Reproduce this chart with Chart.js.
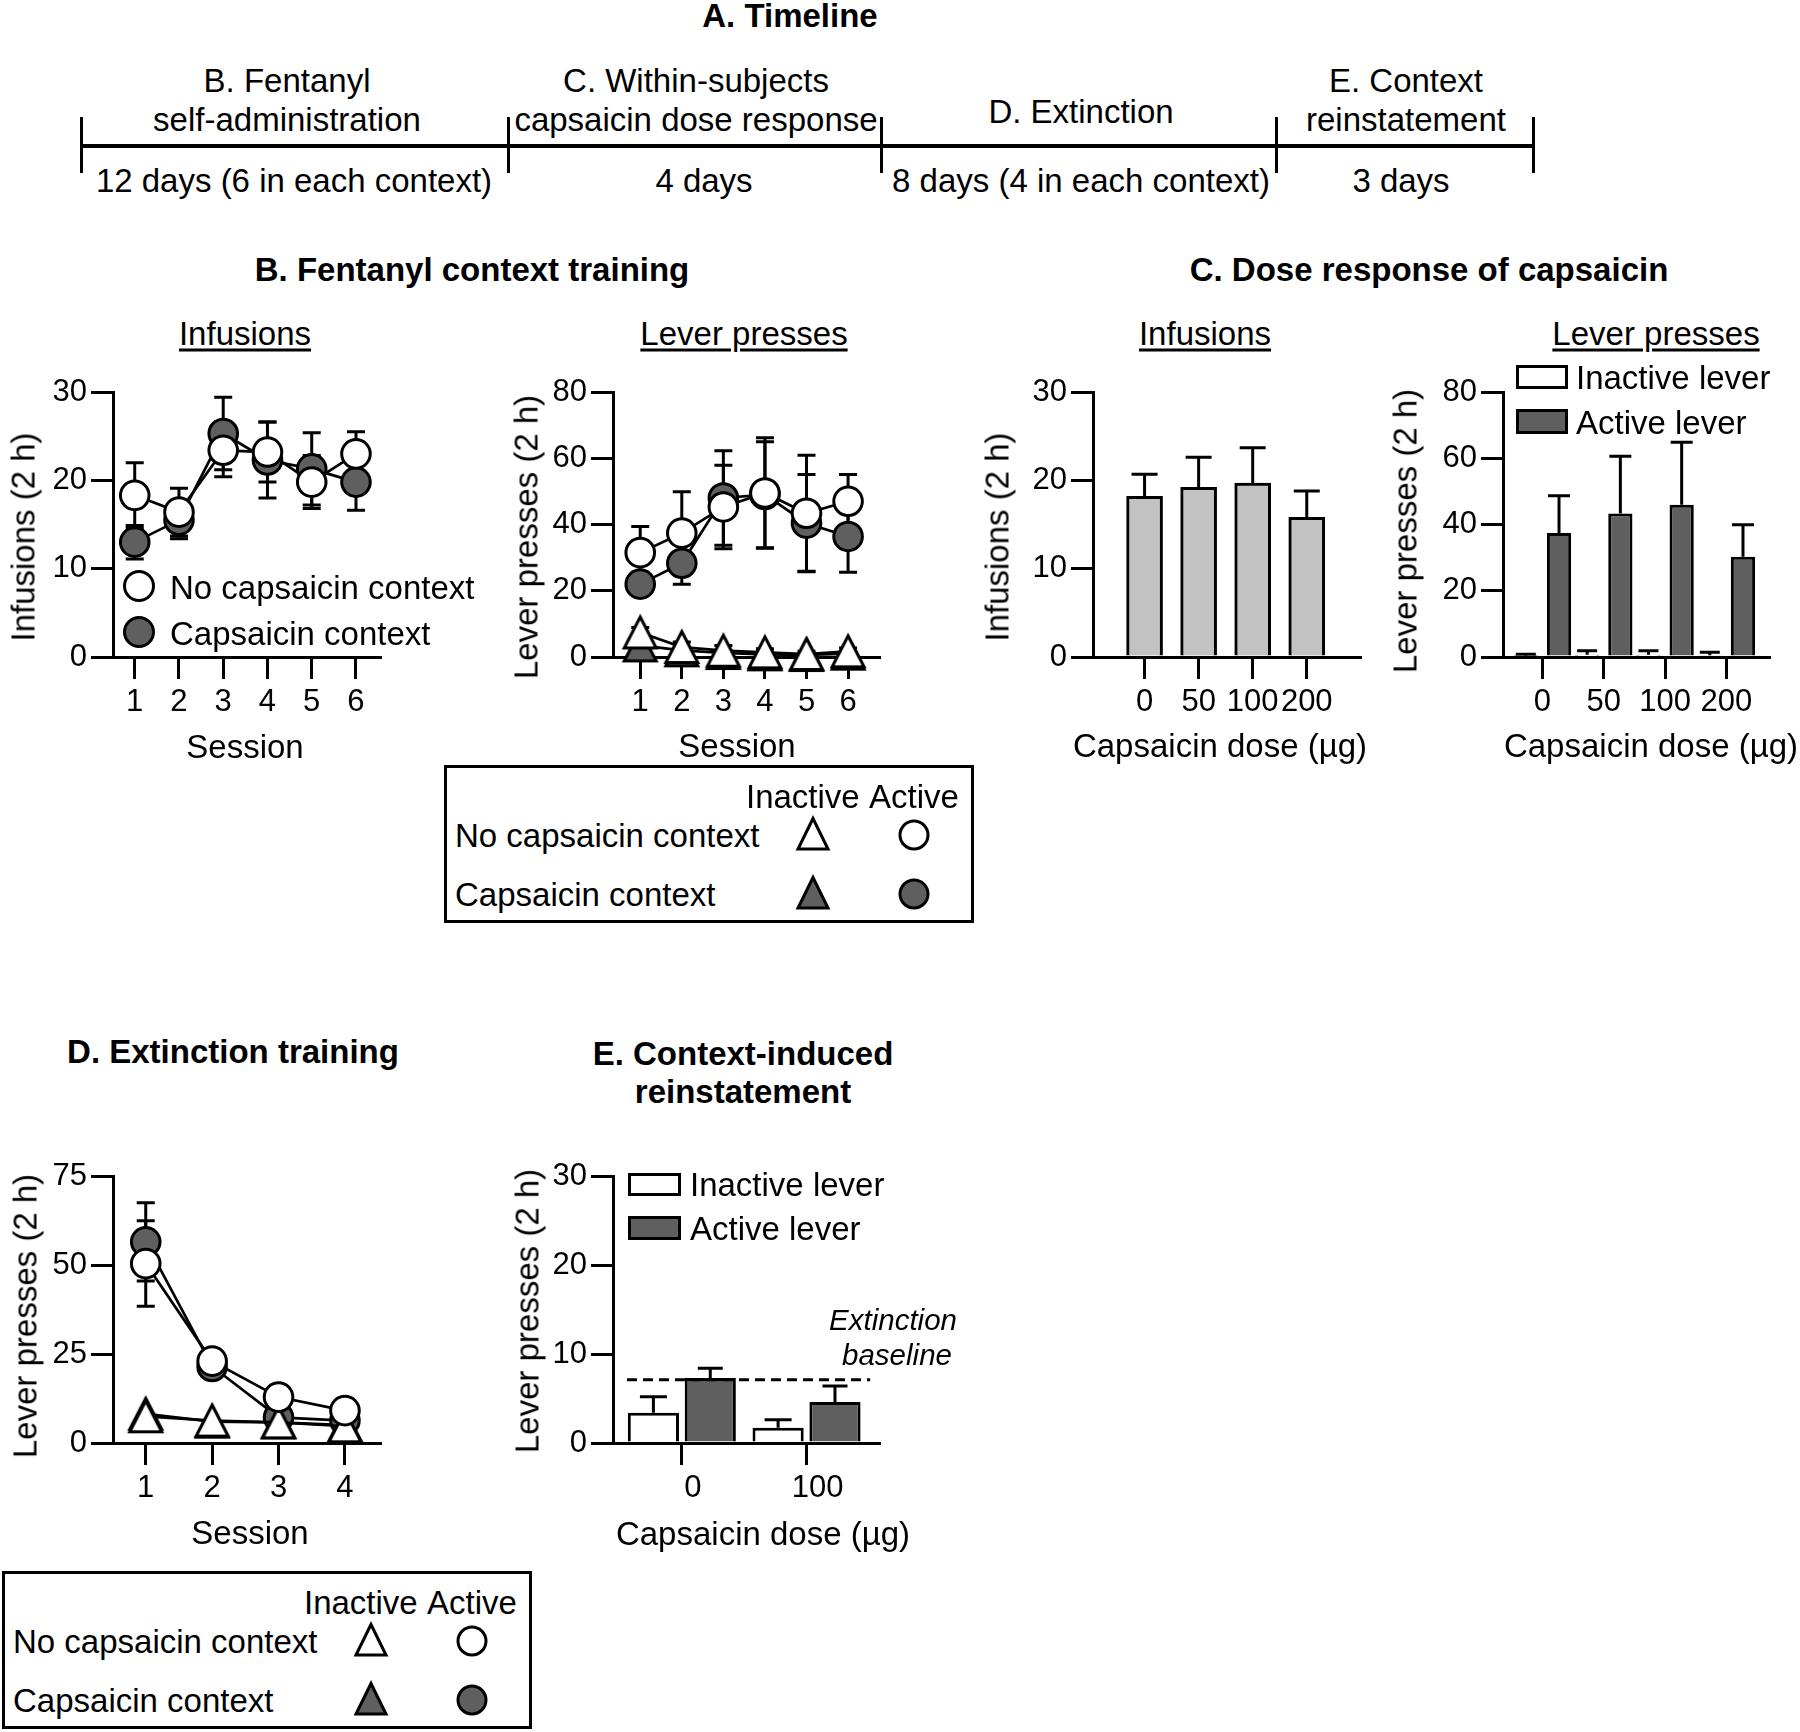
<!DOCTYPE html>
<html>
<head>
<meta charset="utf-8">
<script src="https://cdn.jsdelivr.net/npm/chart.js@4.4.1/dist/chart.umd.min.js"></script>
<style>
  html, body { margin: 0; padding: 0; background: #fff; }
  body { width: 1800px; height: 1732px; position: relative; overflow: hidden;
         font-family: "Liberation Sans", Arial, sans-serif; color: #000; }
  .t { position: absolute; white-space: nowrap; transform: translate(-50%, -50%);
       font-size: 33px; line-height: 1; }
  .lft { transform: translate(0, -50%); }
  .b { font-weight: bold; }
  .u { text-decoration: underline; text-decoration-thickness: 2.5px; text-underline-offset: 4px; }
  .rot { transform: translate(-50%, -50%) rotate(-90deg); }
  .it { font-style: italic; font-size: 29.5px; }
  .box { position: absolute; border: 3px solid #000; box-sizing: border-box; }
  .bar { position: absolute; background: #000; }
  .cv { position: absolute; }
  svg { position: absolute; overflow: visible; }
</style>
</head>
<body>
<script>
// ---- data ----
const sessions6 = [1, 2, 3, 4, 5, 6];
const sessions4 = [1, 2, 3, 4];

// B. infusions during fentanyl training
const infNoCaps = [18.3, 16.4, 23.4, 23.2, 19.8, 23.0];
const infNoCapsErr = [3.7, 2.7, 3.0, 3.4, 3.0, 2.5];
const infCaps = [13.0, 15.5, 25.3, 22.3, 21.3, 19.8];
const infCapsErr = [1.9, 2.1, 4.1, 4.3, 4.1, 3.2];

// B. lever presses during fentanyl training
const actNoCaps = [31.5, 37.4, 45.3, 49.5, 43.4, 47.0];
const actNoCapsErr = [7.9, 12.5, 12.6, 16.7, 17.5, 8.1];
const actCaps = [22.0, 28.3, 48.0, 49.0, 40.4, 36.4];
const actCapsErr = [1.5, 6.3, 14.3, 16.0, 14.7, 10.8];
const inactNoCaps = [7.4, 3.0, 1.9, 1.4, 0.9, 1.7];
const inactNoCapsErr = [1.5, 1.5, 1.6, 1.1, 0.8, 1.0];
const inactCaps = [3.5, 2.0, 1.2, 0.8, 0.6, 1.0];
const inactCapsErr = [1.0, 0.8, 0.6, 0.5, 0.4, 0.5];

// C. dose response
const doseLabels = ['0', '50', '100', '200'];
const doseInfusions = [18.2, 19.2, 19.7, 15.8];
const doseInfusionsErr = [2.5, 3.4, 4.0, 3.0];
const doseInactive = [0.3, 0.7, 0.7, 0.5];
const doseInactiveErr = [0.5, 1.2, 1.2, 0.9];
const doseActive = [37.4, 43.3, 46.0, 30.3];
const doseActiveErr = [11.3, 17.3, 18.8, 9.6];

// D. extinction
const extActNoCaps = [50.4, 23.0, 12.9, 9.1];
const extActNoCapsErr = [12.0, 2.0, 1.5, 1.2];
const extActCaps = [56.5, 21.5, 7.2, 6.3];
const extActCapsErr = [11.0, 2.0, 1.5, 1.2];
const extInactNoCaps = [7.5, 6.3, 5.8, 4.7];
const extInactCaps = [8.2, 6.0, 5.8, 5.0];

// E. reinstatement
const reinstLabels = ['0', '100'];
const reinstInactive = [3.4, 1.7];
const reinstInactiveErr = [1.8, 0.9];
const reinstActive = [7.3, 4.6];
const reinstActiveErr = [1.1, 1.8];
const extinctionBaseline = 7.1;
const baselineSpan = [0.56, 2.51];

// tick values
const infTicks = [0, 10, 20, 30];
const leverTicks = [0, 20, 40, 60, 80];
const extTicks = [0, 25, 50, 75];

// ---- style ----
const DARK = '#5f5f5f';
const LIGHT = '#c2c2c2';
const PAD_L = 130, PAD_T = 40, PAD_R = 50, PAD_B = 90;

Chart.defaults.font.family = '"Liberation Sans", Arial, sans-serif';
Chart.defaults.color = '#000';
Chart.defaults.animation = false;
Chart.defaults.plugins.legend.display = false;
Chart.defaults.plugins.tooltip.enabled = false;

function txt(s, x, y, cls) {
  const d = document.createElement('div');
  d.className = 't ' + (cls || '');
  d.style.left = x + 'px';
  d.style.top = y + 'px';
  d.textContent = s;
  document.body.appendChild(d);
  return d;
}
function rule(x, y, w, h) {
  const d = document.createElement('div');
  d.className = 'bar';
  Object.assign(d.style, { left: x + 'px', top: y + 'px', width: w + 'px', height: h + 'px' });
  document.body.appendChild(d);
}
function svgShape(x, y, inner) {
  const s = document.createElementNS('http://www.w3.org/2000/svg', 'svg');
  s.setAttribute('width', 40); s.setAttribute('height', 40);
  s.style.left = (x - 20) + 'px'; s.style.top = (y - 20) + 'px';
  s.innerHTML = inner;
  document.body.appendChild(s);
}
const circ = (x, y, fill, r) => svgShape(x, y, `<circle cx="20" cy="20" r="${r || 14}" fill="${fill}" stroke="#000" stroke-width="3"/>`);
const tri = (x, y, fill) => svgShape(x, y, `<polygon points="20,4.5 35,35 5,35" fill="${fill}" stroke="#000" stroke-width="3"/>`);
function swatch(x, y, w, h, fill) {
  const d = document.createElement('div');
  d.className = 'box';
  Object.assign(d.style, { left: x + 'px', top: y + 'px', width: w + 'px', height: h + 'px', background: fill });
  document.body.appendChild(d);
}

function triangleImage(fill) {
  const c = document.createElement('canvas');
  c.width = 40; c.height = 40;
  const g = c.getContext('2d');
  g.beginPath();
  g.moveTo(20, 4.5); g.lineTo(36, 35.5); g.lineTo(4, 35.5); g.closePath();
  g.fillStyle = fill; g.fill();
  g.lineWidth = 3; g.strokeStyle = '#000'; g.stroke();
  return c;
}
const triWhite = triangleImage('#fff');
const triDark = triangleImage(DARK);

// error bars drawn through the chart scales
const errorBars = {
  id: 'errorBars',
  beforeDatasetsDraw(chart) {
    const ctx = chart.ctx, y = chart.scales.y;
    chart.data.datasets.forEach((ds, i) => {
      if (!ds.errors) return;
      const meta = chart.getDatasetMeta(i);
      ctx.save();
      ctx.strokeStyle = '#000';
      ctx.lineWidth = 3;
      meta.data.forEach((el, j) => {
        const err = ds.errors[j];
        if (!err) return;
        const v = ds.data[j].y;
        const top = y.getPixelForValue(v + err);
        const bot = ds.errorBoth ? y.getPixelForValue(v - err) : el.y;
        const h = ds.capWidth / 2;
        ctx.beginPath();
        ctx.moveTo(el.x, top); ctx.lineTo(el.x, bot);
        ctx.moveTo(el.x - h, top); ctx.lineTo(el.x + h, top);
        if (ds.errorBoth) { ctx.moveTo(el.x - h, bot); ctx.lineTo(el.x + h, bot); }
        ctx.stroke();
      });
      ctx.restore();
    });
  }
};

const pts = (xs, ys) => xs.map((x, i) => ({ x, y: ys[i] }));
const gridOpts = { drawOnChartArea: false, drawTicks: true, tickLength: 22, tickWidth: 3, lineWidth: 3,
  color: '#000', tickColor: '#000', offset: false };

function xAxis(min, max, ticks, labels, extra) {
  return {
    type: 'linear', min, max, offset: false,
    afterBuildTicks: s => { s.ticks = ticks.map(v => ({ value: v })); },
    afterFit: s => { s.height = PAD_B; },
    border: { color: '#000', width: 3 },
    grid: gridOpts,
    ticks: Object.assign({ font: { size: 31 }, padding: 5, maxRotation: 0, autoSkip: false,
      callback: (v, i) => labels[i] }, extra || {})
  };
}
function yAxis(max, ticks) {
  return {
    type: 'linear', min: 0, max,
    afterBuildTicks: s => { s.ticks = ticks.map(v => ({ value: v })); },
    afterFit: s => { s.width = PAD_L; },
    border: { color: '#000', width: 3 },
    grid: gridOpts,
    ticks: { font: { size: 31 }, padding: 4 }
  };
}
function mount(a) {
  const w = a.right - a.left + PAD_L + PAD_R, h = a.bottom - a.top + PAD_T + PAD_B;
  const c = document.createElement('canvas');
  c.className = 'cv';
  c.width = w; c.height = h;
  Object.assign(c.style, { left: (a.left - PAD_L) + 'px', top: (a.top - PAD_T) + 'px', width: w + 'px', height: h + 'px' });
  document.body.appendChild(c);
  return c;
}
function makeChart(area, type, datasets, scales) {
  return new Chart(mount(area), {
    type,
    data: { datasets },
    options: {
      responsive: false,
      layout: { padding: { left: 0, top: PAD_T, right: PAD_R, bottom: 0 } },
      scales
    },
    plugins: [errorBars]
  });
}
function lineSet(xs, ys, errs, fill, style, r) {
  return {
    type: 'line', data: pts(xs, ys), errors: errs, errorBoth: true, capWidth: 18,
    borderColor: '#000', borderWidth: 2.7, pointStyle: style || 'circle',
    pointRadius: r || 14.3, pointBorderWidth: 3, pointBorderColor: '#000',
    pointBackgroundColor: fill, clip: false, tension: 0
  };
}

// ---- timeline ----
txt('A. Timeline', 790, 15, 'b');
rule(80, 144, 1454, 4);
[80, 507, 880, 1275, 1532].forEach(x => rule(x, 117, 2.5, 56));
txt('B. Fentanyl', 287, 80); txt('self-administration', 287, 119);
txt('C. Within-subjects', 696, 80); txt('capsaicin dose response', 696, 119);
txt('D. Extinction', 1081, 111);
txt('E. Context', 1406, 80); txt('reinstatement', 1406, 119);
txt('12 days (6 in each context)', 294, 180);
txt('4 days', 704, 180);
txt('8 days (4 in each context)', 1081, 180);
txt('3 days', 1401, 180);

// ---- B. Fentanyl context training ----
txt('B. Fentanyl context training', 472, 269, 'b');
txt('Infusions', 245, 333, 'u');
txt('Lever presses', 744, 333, 'u');

makeChart({ left: 113, right: 380, top: 392, bottom: 657 }, 'line', [
  lineSet(sessions6, infNoCaps, infNoCapsErr, '#fff'),
  lineSet(sessions6, infCaps, infCapsErr, DARK)
], { x: xAxis(0.509, 6.543, sessions6, sessions6.map(String)), y: yAxis(30, infTicks) });
txt('Infusions (2 h)', 23, 537, 'rot');
txt('Session', 245, 746);
circ(139, 586, '#fff', 14.5); txt('No capsaicin context', 170, 587, 'lft');
circ(139, 632, DARK, 14.5); txt('Capsaicin context', 170, 633, 'lft');

makeChart({ left: 613, right: 879, top: 392, bottom: 657 }, 'line', [
  lineSet(sessions6, inactNoCaps, inactNoCapsErr, '#fff', triWhite),
  lineSet(sessions6, actNoCaps, actNoCapsErr, '#fff'),
  lineSet(sessions6, actCaps, actCapsErr, DARK),
  lineSet(sessions6, inactCaps, inactCapsErr, DARK, triDark)
], { x: xAxis(0.345, 6.744, sessions6, sessions6.map(String)), y: yAxis(80, leverTicks) });
txt('Lever presses (2 h)', 526, 537, 'rot');
txt('Session', 737, 745);

function legendBox(left, top) {
  const d = document.createElement('div');
  d.className = 'box';
  Object.assign(d.style, { left: left + 'px', top: top + 'px', width: '530px', height: '158px' });
  document.body.appendChild(d);
  txt('Inactive', left + 302, top + 31, 'lft');
  txt('Active', left + 425, top + 31, 'lft');
  txt('No capsaicin context', left + 11, top + 70, 'lft');
  txt('Capsaicin context', left + 11, top + 129, 'lft');
  tri(left + 369, top + 69, '#fff'); circ(left + 470, top + 70, '#fff');
  tri(left + 369, top + 128, DARK); circ(left + 470, top + 129, DARK);
}
legendBox(444, 765);

// ---- C. Dose response ----
txt('C. Dose response of capsaicin', 1429, 269, 'b');
txt('Infusions', 1205, 333, 'u');
txt('Lever presses', 1656, 333, 'u');

makeChart({ left: 1093, right: 1360, top: 392, bottom: 657 }, 'bar', [{
  data: pts(sessions4, doseInfusions), errors: doseInfusionsErr, capWidth: 26,
  backgroundColor: LIGHT, borderColor: '#000', borderWidth: 3, barThickness: 36
}], { x: xAxis(0.046, 4.985, sessions4, doseLabels), y: yAxis(30, infTicks) });
txt('Infusions (2 h)', 997, 537, 'rot');
txt('Capsaicin dose (µg)', 1220, 745);

makeChart({ left: 1503, right: 1769, top: 392, bottom: 657 }, 'bar', [{
  data: pts(sessions4, doseInactive), errors: doseInactiveErr, capWidth: 20,
  backgroundColor: '#fff', borderColor: '#000', borderWidth: 3,
  categoryPercentage: 1.083, barPercentage: 0.73
}, {
  data: pts(sessions4, doseActive), errors: doseActiveErr, capWidth: 22,
  backgroundColor: DARK, borderColor: '#000', borderWidth: 3,
  categoryPercentage: 1.083, barPercentage: 0.73
}], { x: xAxis(0.357, 4.695, sessions4, doseLabels), y: yAxis(80, leverTicks) });
txt('Lever presses (2 h)', 1405, 531, 'rot');
txt('Capsaicin dose (µg)', 1651, 745);
swatch(1516, 365, 52, 24, '#fff'); txt('Inactive lever', 1576, 377, 'lft');
swatch(1516, 409, 52, 25, DARK); txt('Active lever', 1576, 422, 'lft');

// ---- D. Extinction training ----
txt('D. Extinction training', 233, 1051, 'b');
makeChart({ left: 113, right: 380, top: 1176, bottom: 1443 }, 'line', [
  lineSet(sessions4, extActNoCaps, extActNoCapsErr, '#fff'),
  lineSet(sessions4, extInactNoCaps, null, '#fff', triWhite),
  lineSet(sessions4, extActCaps, extActCapsErr, DARK),
  lineSet(sessions4, extInactCaps, null, DARK, triDark)
], { x: xAxis(0.507, 4.528, sessions4, sessions4.map(String)), y: yAxis(75, extTicks) });
txt('Lever presses (2 h)', 25, 1316, 'rot');
txt('Session', 250, 1532);
legendBox(2, 1571);

// ---- E. Context-induced reinstatement ----
txt('E. Context-induced', 743, 1053, 'b');
txt('reinstatement', 743, 1091, 'b');
makeChart({ left: 613, right: 879, top: 1176, bottom: 1443 }, 'bar', [{
  type: 'line', data: pts(baselineSpan, [extinctionBaseline, extinctionBaseline]),
  borderColor: '#000', borderWidth: 3, borderDash: [10, 6], pointRadius: 0
}, {
  data: pts([1, 2], reinstInactive), errors: reinstInactiveErr, capWidth: 27,
  backgroundColor: '#fff', borderColor: '#000', borderWidth: 3,
  categoryPercentage: 0.912, barPercentage: 0.9
}, {
  data: pts([1, 2], reinstActive), errors: reinstActiveErr, capWidth: 25,
  backgroundColor: DARK, borderColor: '#000', borderWidth: 3,
  categoryPercentage: 0.912, barPercentage: 0.9
}], { x: xAxis(0.448, 2.581, [1, 2], reinstLabels, { labelOffset: 11 }), y: yAxis(30, infTicks) });
txt('Lever presses (2 h)', 527, 1311, 'rot');
txt('Capsaicin dose (µg)', 763, 1533);
swatch(628, 1173, 53, 23, '#fff'); txt('Inactive lever', 690, 1184, 'lft');
swatch(628, 1216, 53, 24, DARK); txt('Active lever', 690, 1228, 'lft');
txt('Extinction', 893, 1320, 'it');
txt('baseline', 897, 1355, 'it');
</script>
</body>
</html>
